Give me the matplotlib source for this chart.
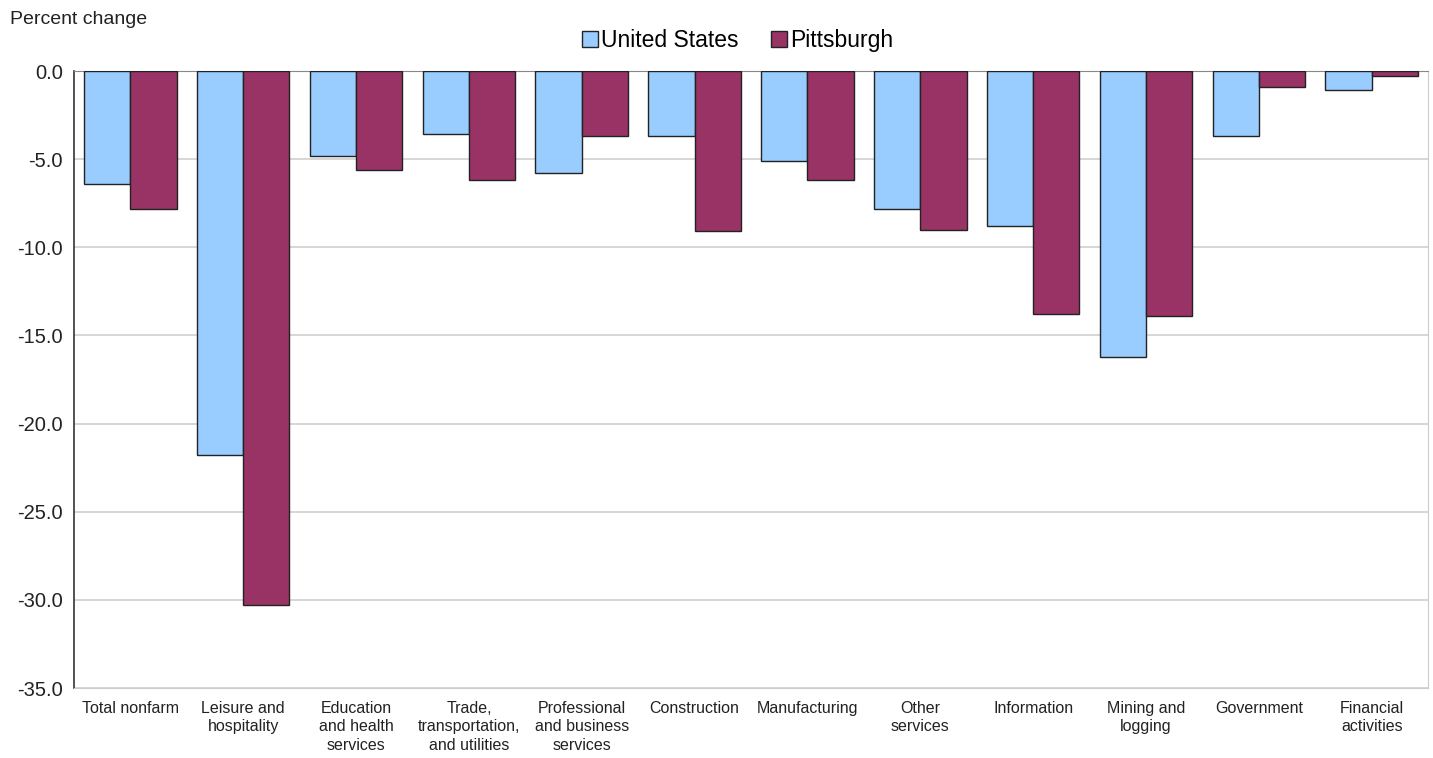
import numpy as np
import matplotlib.pyplot as plt

plt.rcParams['font.family'] = ['Liberation Sans', 'DejaVu Sans']

categories = ["Total nonfarm", "Leisure and\nhospitality", "Education\nand health\nservices",
              "Trade,\ntransportation,\nand utilities", "Professional\nand business\nservices",
              "Construction", "Manufacturing", "Other\nservices", "Information",
              "Mining and\nlogging", "Government", "Financial\nactivities"]
us_values = [-6.4, -21.8, -4.8, -3.6, -5.8, -3.7, -5.1, -7.8, -8.8, -16.2, -3.7, -1.1]
pgh_values = [-7.8, -30.3, -5.6, -6.2, -3.7, -9.1, -6.2, -9.0, -13.8, -13.9, -0.9, -0.3]
y_ticks = [0, -5, -10, -15, -20, -25, -30, -35]

fig = plt.figure(figsize=(14.33, 7.58), dpi=100)
ax = fig.add_axes([0.0516, 0.0923, 0.945, 0.814])

x = np.arange(len(categories))
w = 0.41
ax.bar(x - w / 2, us_values, w, color="#99CCFF", edgecolor="#222222", linewidth=1.0,
       label="United States", zorder=3)
ax.bar(x + w / 2, pgh_values, w, color="#993366", edgecolor="#222222", linewidth=1.0,
       label="Pittsburgh", zorder=3)

ax.set_xlim(-0.5, len(categories) - 0.5)
ax.set_ylim(-35, 0)
ax.set_yticks(y_ticks)
ax.set_yticklabels([f"{v:.1f}" for v in y_ticks], fontsize=14.5, color="#222222")
ax.yaxis.grid(True, color="#d0d0d0", linewidth=1.2, zorder=0)
ax.tick_params(axis="y", length=0, pad=8)
ax.tick_params(axis="x", length=0, pad=9)
ax.set_xticks(x)
ax.set_xticklabels(categories, fontsize=11.5, color="#222222", linespacing=1.3, va="top")

ax.spines["left"].set_color("#333333")
ax.spines["left"].set_linewidth(1.2)
ax.spines["top"].set_color("#888888")
ax.spines["right"].set_color("#cccccc")
ax.spines["bottom"].set_color("#cccccc")

fig.text(0.007, 0.985, "Percent change", fontsize=14, color="#222222", va="top")
ax.legend(loc="lower center", bbox_to_anchor=(0.49, 1.005), ncol=2, frameon=False,
          fontsize=16.5, handlelength=0.7, handleheight=0.7, handletextpad=0.15,
          columnspacing=1.4, borderaxespad=0.3)

fig.savefig("out.png", dpi=100)
